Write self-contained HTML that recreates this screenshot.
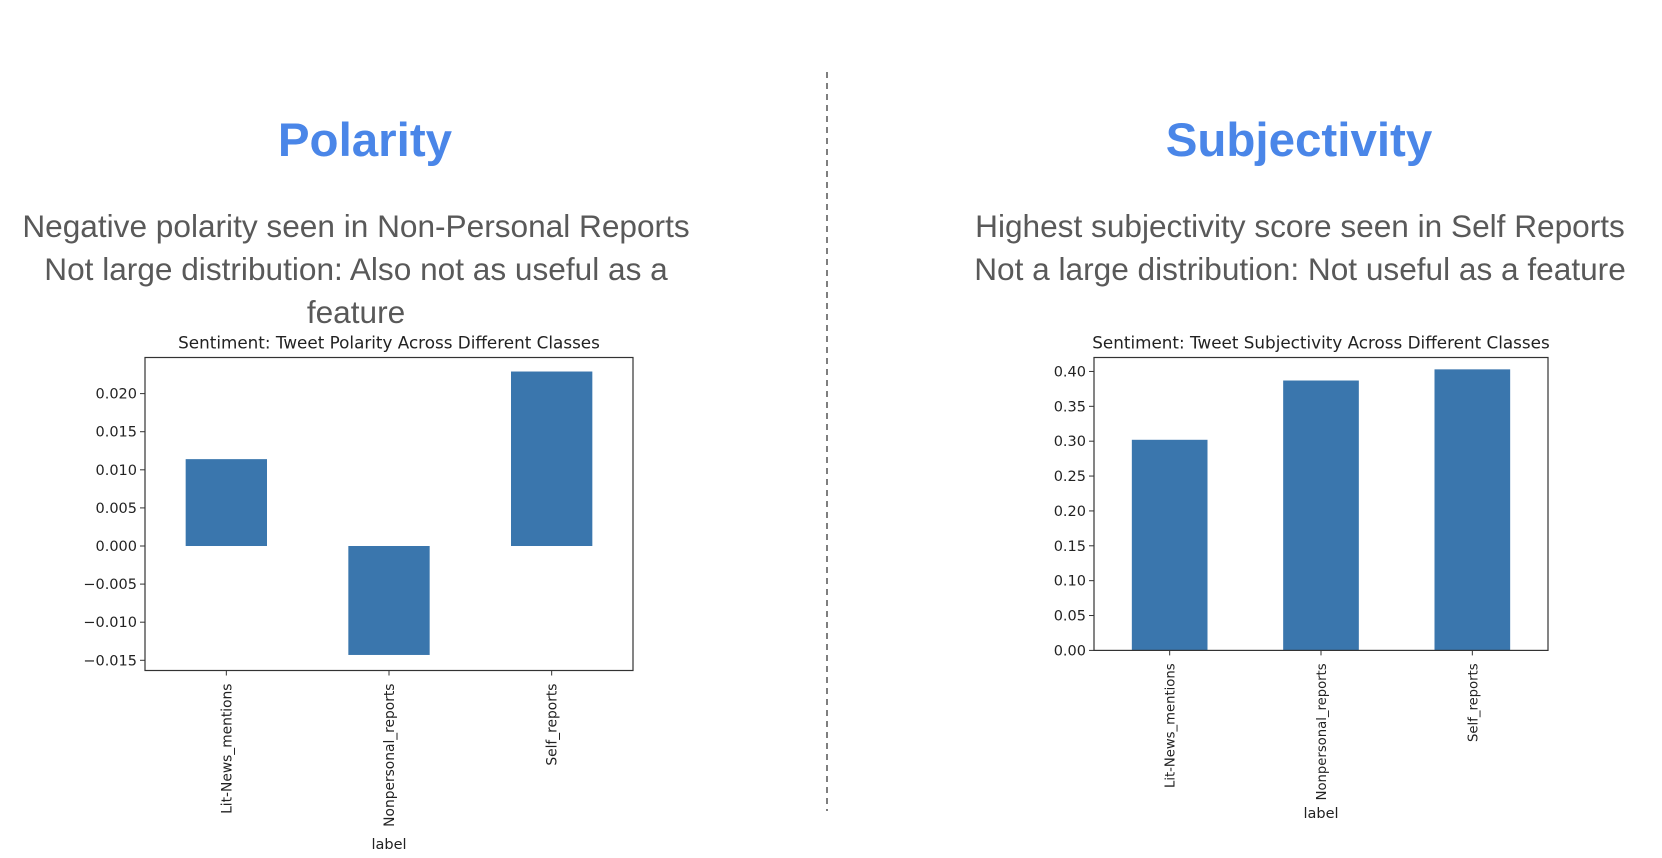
<!DOCTYPE html>
<html><head><meta charset="utf-8"><style>
html,body{margin:0;padding:0;background:#fff;}
body{width:1662px;height:858px;position:relative;overflow:hidden;font-family:"Liberation Sans",Arial,sans-serif;}
.h{position:absolute;color:#4a86e8;font-weight:bold;font-size:47.5px;text-align:center;width:700px;top:113px;}
.t{position:absolute;color:#595959;font-size:31.6px;text-align:center;line-height:43px;top:205px;}
svg{position:absolute;left:0;top:0;}
</style></head><body>
<div class="h" style="left:15px">Polarity</div>
<div class="h" style="left:949px">Subjectivity</div>
<div class="t" style="left:6px;width:700px">Negative polarity seen in Non-Personal Reports<br>Not large distribution: Also not as useful as a<br>feature</div>
<div class="t" style="left:950px;width:700px">Highest subjectivity score seen in Self Reports<br>Not a large distribution: Not useful as a feature</div>
<svg id="s" width="1662" height="858" font-family="DejaVu Sans, Liberation Sans, sans-serif">
<line x1="827" y1="72" x2="827" y2="811" stroke="#555" stroke-width="1.5" stroke-dasharray="6,5"/>
</svg>
<script>
const categories = ["Lit-News_mentions","Nonpersonal_reports","Self_reports"];
const polarityValues = [0.0114, -0.0143, 0.0229];
const polarityTicks = [-0.015,-0.010,-0.005,0.000,0.005,0.010,0.015,0.020];
const polarityTickLabels = ["\u22120.015","\u22120.010","\u22120.005","0.000","0.005","0.010","0.015","0.020"];
const subjectivityValues = [0.302, 0.387, 0.403];
const subjectivityTicks = [0,0.05,0.10,0.15,0.20,0.25,0.30,0.35,0.40];
const subjectivityTickLabels = ["0.00","0.05","0.10","0.15","0.20","0.25","0.30","0.35","0.40"];

const NS="http://www.w3.org/2000/svg";
const svg=document.getElementById('s');
function mk(tag,attrs,parent){const e=document.createElementNS(NS,tag);for(const k in attrs)e.setAttribute(k,attrs[k]);(parent||svg).appendChild(e);return e;}

function chart(o){
  const g=mk('g',{});
  
  
  const y=v=>o.top+(o.ymax-v)/(o.ymax-o.ymin)*(o.bottom-o.top);
  const step=(o.right-o.left)/categories.length;
  const x=i=>o.left+step*(i+0.5);
  const t=mk('text',{x:(o.left+o.right)/2,y:o.top-9,'text-anchor':'middle','font-size':'16.8',fill:'#222'},g);
  t.textContent=o.title;
  
  
  o.values.forEach((v,i)=>{
    const r=mk('rect',{x:x(i)-step*0.25,width:step*0.5,y:Math.min(y(v),y(0)),height:Math.abs(y(v)-y(0)),fill:'#3a76ad'},g);
    
    
  });
  o.ticks.forEach((v,i)=>{
    mk('line',{x1:o.left-5,x2:o.left,y1:y(v),y2:y(v),stroke:'#333'},g);
    const l=mk('text',{x:o.left-8,y:y(v)+5,'text-anchor':'end','font-size':'14.5',fill:'#222'},g);
    l.textContent=o.tickLabels[i];
    
    
  });
  categories.forEach((c,i)=>{
    mk('line',{x1:x(i),x2:x(i),y1:o.bottom,y2:o.bottom+5,stroke:'#333'},g);
    const l=mk('text',{x:0,y:0,'text-anchor':'end','font-size':o.xfs,fill:'#222',transform:`translate(${x(i)+5},${o.bottom+13}) rotate(-90)`},g);
    l.textContent=c;
    
    
  });
  const xl=mk('text',{x:(o.left+o.right)/2,y:o.labelY,'text-anchor':'middle','font-size':'14.5',fill:'#222'},g);
  xl.textContent='label';
  
  
  mk('rect',{x:o.left,y:o.top,width:o.right-o.left,height:o.bottom-o.top,fill:'none',stroke:'#333','stroke-width':1.2},g);
}
chart({name:'polarity-chart',title:'Sentiment: Tweet Polarity Across Different Classes',values:polarityValues,ticks:polarityTicks,tickLabels:polarityTickLabels,left:145,right:633,top:357.5,bottom:670.5,ymin:-0.01634,ymax:0.02474,labelY:849,xfs:'13.8'});
chart({name:'subjectivity-chart',title:'Sentiment: Tweet Subjectivity Across Different Classes',values:subjectivityValues,ticks:subjectivityTicks,tickLabels:subjectivityTickLabels,left:1094,right:1548,top:357.5,bottom:650.4,ymin:0,ymax:0.42,labelY:818,xfs:'13.2'});
</script>
</body></html>
